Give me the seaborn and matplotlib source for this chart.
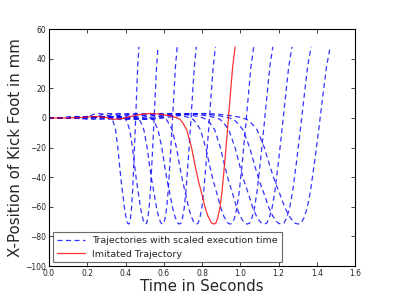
import numpy as np
import pandas as pd
import matplotlib
matplotlib.use("Agg")
import matplotlib.pyplot as plt
import seaborn as sns

# Imitated (demonstrated) trajectory
red_t = [0.00, 0.05, 0.10, 0.15, 0.20, 0.25, 0.30, 0.335, 0.38, 0.43, 0.48,
         0.53, 0.58, 0.63, 0.66, 0.685, 0.70, 0.72, 0.745, 0.765, 0.78, 0.80,
         0.815, 0.83, 0.845, 0.853, 0.862, 0.872, 0.882, 0.893, 0.905, 0.92,
         0.935, 0.95, 0.96, 0.973]
red_x = [0.0, 0.0, 0.0, 0.1, 0.6, 1.0, 0.2, -1.0, -0.5, 1.0, 2.4,
         3.0, 2.6, 1.5, 0.5, -1.0, -3.5, -8.0, -20.0, -33.0, -42.0, -52.0,
         -60.0, -66.0, -70.0, -71.2, -71.6, -71.0, -67.5, -61.0, -49.0, -28.0,
         -5.0, 19.0, 34.5, 48.0]

# End times of the trajectories with scaled execution time
durations = [0.47, 0.57, 0.67, 0.77, 0.87, 1.07, 1.17, 1.27, 1.37, 1.47]

# Build long table: each scaled trajectory is the demo stretched in time
rows = []
for d in durations:
    scale = d / red_t[-1]
    for t, x in zip(red_t, red_x):
        rows.append({"curve": d, "time": t * scale, "x": x})
blue_df = pd.DataFrame(rows)
red_df = pd.DataFrame({"time": red_t, "x": red_x})

sns.set_style("ticks")
plt.rcParams['font.family'] = ['DejaVu Sans']
plt.rcParams['xtick.direction'] = 'in'
plt.rcParams['ytick.direction'] = 'in'

fig = plt.figure(figsize=(3.95, 2.96), dpi=100)
ax = fig.add_axes([0.124, 0.101, 0.775, 0.801])

for i, d in enumerate(durations):
    sub = blue_df[blue_df["curve"] == d]
    sns.lineplot(data=sub, x="time", y="x", ax=ax, color="#0000ff",
                 linestyle="--", dashes=False, linewidth=0.9, alpha=0.8,
                 label="Trajectories with scaled execution time" if i == 0 else None)
    ax.lines[-1].set_dashes((4, 2.8))

sns.lineplot(data=red_df, x="time", y="x", ax=ax, color="#ff0000",
             linewidth=0.9, alpha=0.8, label="Imitated Trajectory")

ax.set_xlim(0, 1.6)
ax.set_ylim(-100, 60)
ax.set_xticks(np.arange(0, 1.61, 0.2))
ax.set_yticks(np.arange(-100, 61, 20))
ax.set_xticklabels([f"{v:.1f}" for v in np.arange(0, 1.61, 0.2)])
ax.tick_params(axis='both', which='both', labelsize=5.5, length=3, width=0.6,
               top=True, right=True, direction='in', pad=2)
for s in ax.spines.values():
    s.set_visible(True)
    s.set_linewidth(0.8)
    s.set_color("black")

ax.set_xlabel("Time in Seconds", fontsize=10.8, labelpad=1)
ax.set_ylabel("X-Position of Kick Foot in mm", fontsize=10.8, labelpad=2)

leg = ax.legend(loc="lower left", fontsize=6.8, fancybox=False, handlelength=3,
                borderaxespad=0.4, frameon=True)
leg.get_frame().set_edgecolor("#444444")
leg.get_frame().set_linewidth(0.8)

fig.savefig("out.png", dpi=100)
